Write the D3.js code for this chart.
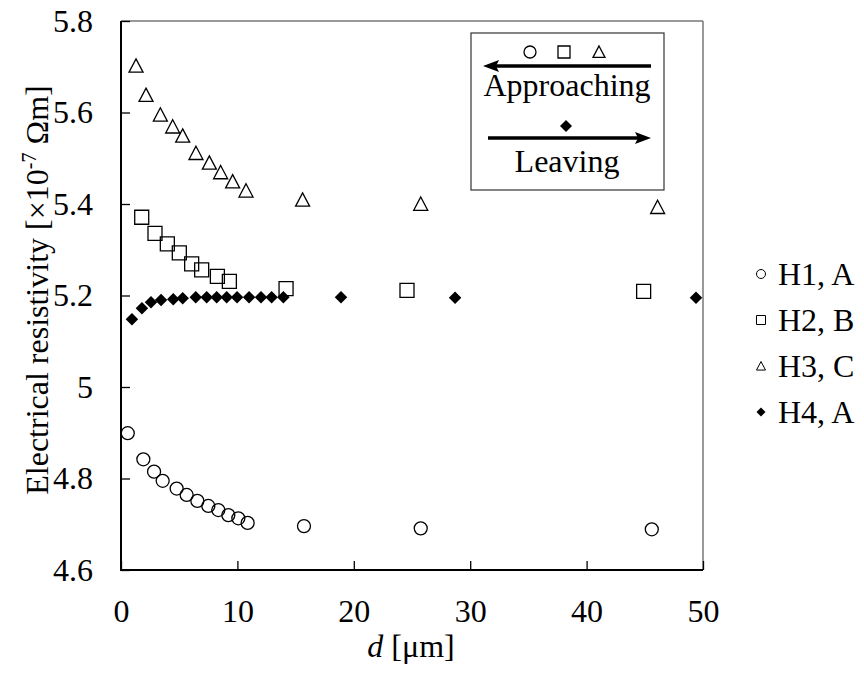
<!DOCTYPE html>
<html lang="en">
<head>
  <meta charset="UTF-8">
  <title>resistivity vs d</title>
  <script src="https://d3js.org/d3.v7.min.js"></script>
  <style>
    body { margin: 0; background: #fff; }
    svg text { font-family: "Liberation Serif", "Times New Roman", "DejaVu Serif", serif; fill: #000; }
  </style>
</head>
<body>
  <svg id="chart" width="864" height="675" font-family="Liberation Serif"></svg>
  <script>
    // data
    const h1d = [0.58, 1.92, 2.84, 3.58, 4.78, 5.64, 6.56, 7.50, 8.36, 9.22, 10.08, 10.88, 15.72, 25.75, 45.6];
    const h1r = [4.899, 4.842, 4.815, 4.795, 4.778, 4.764, 4.751, 4.740, 4.731, 4.720, 4.713, 4.703, 4.696, 4.691, 4.689];

    const h2d = [1.78, 2.92, 3.98, 5.01, 6.07, 6.93, 8.28, 9.31, 14.18, 24.57, 44.9];
    const h2r = [5.371, 5.336, 5.313, 5.293, 5.269, 5.256, 5.242, 5.231, 5.215, 5.211, 5.209];

    const h3d = [1.29, 2.15, 3.38, 4.44, 5.30, 6.44, 7.59, 8.56, 9.59, 10.74, 15.6, 25.75, 46.1];
    const h3r = [5.702, 5.638, 5.595, 5.569, 5.549, 5.511, 5.490, 5.469, 5.449, 5.429, 5.409, 5.400, 5.393];

    const h4d = [0.94, 1.80, 2.58, 3.44, 4.49, 5.30, 6.42, 7.36, 8.22, 9.08, 9.97, 11.0, 12.03, 12.94, 13.95, 18.9, 28.7, 49.4];
    const h4r = [5.148, 5.172, 5.185, 5.190, 5.192, 5.194, 5.196, 5.196, 5.196, 5.196, 5.196, 5.196, 5.196, 5.196, 5.196, 5.196, 5.195, 5.195];

    const xTicks = [0, 10, 20, 30, 40, 50];
    const yTicks = [4.6, 4.8, 5.0, 5.2, 5.4, 5.6, 5.8];
    const yTickLabels = ['4.6', '4.8', '5', '5.2', '5.4', '5.6', '5.8'];
    const seriesNames = ['H1, A', 'H2, B', 'H3, C', 'H4, A'];
    const seriesShapes = ['circle', 'square', 'triangle', 'diamond'];

    const svg = d3.select('svg#chart');
    const margins = { top: 21, right: 161, bottom: 105, left: 121 };
    const width = +svg.attr('width');
    const height = +svg.attr('height');
    const chartWidth = width - margins.left - margins.right;
    const chartHeight = height - margins.top - margins.bottom;
    const fontSize = '32px';

    const xScale = d3.scaleLinear().domain([0, 50]).range([0, chartWidth]);
    const yScale = d3.scaleLinear().domain([4.6, 5.8]).range([chartHeight, 0]);

    const chartArea = svg.append('g')
      .attr('transform', `translate(${margins.left},${margins.top})`);

    // marker paths, s = size in px
    function marker(shape, s) {
      const h = s / 2;
      if (shape === 'circle') {
        return `M${h},0A${h},${h} 0 1,1 ${-h},0A${h},${h} 0 1,1 ${h},0Z`;
      }
      if (shape === 'square') {
        return `M${-h},${-h}H${h}V${h}H${-h}Z`;
      }
      if (shape === 'triangle') {
        return `M0,${-h}L${h},${h * 0.9}L${-h},${h * 0.9}Z`;
      }
      return `M0,${-h}L${h},0L0,${h}L${-h},0Z`;
    }

    // frame: grey top/right, black left/bottom
    chartArea.append('line')
      .attr('x1', 0).attr('x2', chartWidth).attr('y1', 0).attr('y2', 0)
      .attr('stroke', '#777').style('stroke-width', '1.5');
    chartArea.append('line')
      .attr('x1', chartWidth).attr('x2', chartWidth).attr('y1', 0).attr('y2', chartHeight)
      .attr('stroke', '#777').style('stroke-width', '1.5');

    // axes with inward ticks
    const xAxis = d3.axisBottom(xScale).tickValues(xTicks).tickSize(-9).tickPadding(29)
      .tickFormat(d3.format('d'));
    const yAxis = d3.axisLeft(yScale).tickValues(yTicks).tickSize(-9).tickPadding(28)
      .tickFormat((d, i) => yTickLabels[i]);

    const gx = chartArea.append('g')
      .attr('transform', `translate(0,${chartHeight})`)
      .call(xAxis);
    const gy = chartArea.append('g').call(yAxis);

    [gx, gy].forEach(g => {
      g.attr('font-family', null).attr('font-size', null);
      g.select('.domain').remove();
      g.selectAll('line').attr('stroke', '#000').style('stroke-width', '1.3');
      g.selectAll('text')
        .style('font-size', fontSize)
        .attr('fill', '#000');
    });

    chartArea.append('line')
      .attr('x1', 0).attr('x2', 0).attr('y1', 0).attr('y2', chartHeight + 1)
      .attr('stroke', '#000').style('stroke-width', '2');
    chartArea.append('line')
      .attr('x1', 0).attr('x2', chartWidth).attr('y1', chartHeight).attr('y2', chartHeight)
      .attr('stroke', '#000').style('stroke-width', '2');

    // points
    function drawSeries(ds, rs, shape, size, filled) {
      ds.forEach((d, i) => {
        chartArea.append('path')
          .attr('d', marker(shape, size))
          .attr('transform', `translate(${xScale(d)},${yScale(rs[i])})`)
          .attr('fill', filled ? '#000' : 'none')
          .attr('stroke', '#000')
          .style('stroke-width', filled ? '0' : '1.3');
      });
    }
    drawSeries(h1d, h1r, 'circle', 13, false);
    drawSeries(h2d, h2r, 'square', 14, false);
    drawSeries(h3d, h3r, 'triangle', 14, false);
    drawSeries(h4d, h4r, 'diamond', 12.5, true);

    // axis titles
    svg.append('text')
      .attr('x', 411).attr('y', 657)
      .attr('text-anchor', 'middle')
      .style('font-size', fontSize)
      .html('<tspan font-style="italic">d</tspan> [\u03bcm]');

    const yTitle = svg.append('text')
      .attr('transform', 'translate(48,290) rotate(-90)')
      .attr('text-anchor', 'middle')
      .style('font-size', fontSize);
    yTitle.append('tspan').text('Electrical resistivity [\u00d710');
    yTitle.append('tspan').attr('dy', -12).style('font-size', '20px').text('-7');
    yTitle.append('tspan').attr('dy', 12).text(' \u03a9m]');

    // inner legend box
    const box = svg.append('g');
    box.append('rect')
      .attr('x', 471).attr('y', 33).attr('width', 193).attr('height', 157)
      .attr('fill', '#fff').attr('stroke', '#333').style('stroke-width', '1.2');
    [['circle', 530], ['square', 564], ['triangle', 599]].forEach(m => {
      box.append('path')
        .attr('d', marker(m[0], 12))
        .attr('transform', `translate(${m[1]},52)`)
        .attr('fill', 'none').attr('stroke', '#000').style('stroke-width', '1.3');
    });
    box.append('line')
      .attr('x1', 651).attr('x2', 494).attr('y1', 66).attr('y2', 66)
      .attr('stroke', '#000').style('stroke-width', '3.5');
    box.append('path')
      .attr('d', 'M483,66L499,60L496,66L499,72Z').attr('fill', '#000');
    box.append('text')
      .attr('x', 567).attr('y', 96).attr('text-anchor', 'middle')
      .style('font-size', fontSize).text('Approaching');
    box.append('path')
      .attr('d', marker('diamond', 12))
      .attr('transform', 'translate(566,126)').attr('fill', '#000');
    box.append('line')
      .attr('x1', 488).attr('x2', 640).attr('y1', 138).attr('y2', 138)
      .attr('stroke', '#000').style('stroke-width', '3.5');
    box.append('path')
      .attr('d', 'M651,138L635,132L638,138L635,144Z').attr('fill', '#000');
    box.append('text')
      .attr('x', 567).attr('y', 172).attr('text-anchor', 'middle')
      .style('font-size', fontSize).text('Leaving');

    // series legend on the right
    const legend = svg.append('g');
    seriesNames.forEach((name, i) => {
      const y = 274 + i * 46;
      const filled = seriesShapes[i] === 'diamond';
      legend.append('path')
        .attr('d', marker(seriesShapes[i], 9))
        .attr('transform', `translate(761,${y})`)
        .attr('fill', filled ? '#000' : 'none')
        .attr('stroke', '#000')
        .style('stroke-width', filled ? '0' : '1');
      legend.append('text')
        .attr('x', 778).attr('y', y + 11)
        .style('font-size', fontSize)
        .text(name);
    });
  </script>
</body>
</html>
